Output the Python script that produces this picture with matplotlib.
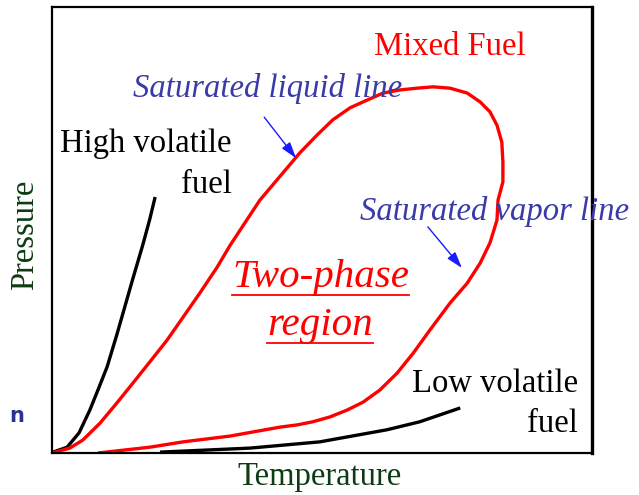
import matplotlib
matplotlib.use("Agg")
import matplotlib.pyplot as plt
from matplotlib.lines import Line2D

# ---- data (temperature / pressure in arbitrary units, 0-100) ----
high_T = [0, 0.2, 2.8, 5.0, 7.0, 8.5, 10.2, 12.0, 13.3, 15.0, 16.8, 18.1, 19.1]
high_P = [0, 0.2, 1.3, 4.5, 9.6, 14.1, 19.3, 26.5, 32.0, 39.2, 46.6, 52.4, 57.4]

mixed_T = [0, 3.3, 5.7, 8.9, 12.0, 15.0, 18.1, 21.3, 24.3, 27.4, 30.6, 33.0, 38.5,
           45.9, 49.1, 52.0, 55.2, 58.3, 61.3, 64.4, 67.6, 70.6, 73.7, 76.9, 79.3,
           81.1, 82.4, 83.3, 83.5, 83.5, 82.6, 82.4, 81.1, 79.3, 76.9, 73.7, 70.0,
           66.9, 63.9, 60.7, 57.6, 54.6, 51.5, 48.3, 45.4, 42.2, 33.0, 24.3, 18.1, 8.5]
mixed_P = [0, 1.1, 2.9, 6.7, 11.2, 15.7, 20.4, 25.3, 30.5, 35.9, 41.7, 46.6, 56.7,
           67.3, 71.3, 74.7, 77.4, 79.1, 80.7, 81.4, 81.8, 82.1, 81.8, 80.7, 78.7,
           76.5, 73.5, 69.7, 65.2, 60.8, 56.7, 52.2, 47.1, 42.6, 38.1, 33.6, 27.6,
           22.4, 17.9, 14.1, 11.4, 9.6, 8.1, 7.0, 6.3, 5.8, 3.8, 2.5, 1.3, 0]

low_T = [20.0, 29.3, 36.7, 49.6, 62.0, 68.1, 75.6]
low_P = [0.2, 0.7, 1.1, 2.5, 5.2, 7.0, 10.1]

W, H = 639, 495
fig = plt.figure(figsize=(W / 100, H / 100), dpi=100)
ax = fig.add_axes([52 / W, 42 / H, 540 / W, 446 / H])
ax.set_xlim(0, 100)
ax.set_ylim(0, 100)
ax.set_xticks([])
ax.set_yticks([])
for s in ax.spines.values():
    s.set_linewidth(1.6)
    s.set_color("black")
ax.spines["right"].set_linewidth(2.4)

serif = "Liberation Serif"
blue_txt = "#3a3aa8"
fs = 23.5

kw = dict(lw=2.4, solid_joinstyle="round", solid_capstyle="butt")
ax.plot(high_T, high_P, color="black", **kw)
ax.plot(low_T, low_P, color="black", **kw)
ax.plot(mixed_T, mixed_P, color="#ff0000", **kw)

ax.text(73.7, 89.2, "Mixed Fuel", color="#ff0000", fontsize=fs, family=serif,
        ha="center", va="baseline")
ax.text(33.3, 67.5, "High volatile", color="black", fontsize=fs, family=serif,
        ha="right", va="baseline")
ax.text(33.3, 58.3, "fuel", color="black", fontsize=fs, family=serif,
        ha="right", va="baseline")
ax.text(97.4, 13.7, "Low volatile", color="black", fontsize=fs, family=serif,
        ha="right", va="baseline")
ax.text(97.4, 4.7, "fuel", color="black", fontsize=fs, family=serif,
        ha="right", va="baseline")

ax.text(40.0, 79.8, "Saturated liquid line", color=blue_txt, fontsize=fs, family=serif,
        style="italic", ha="center", va="baseline")
ax.text(81.9, 52.2, "Saturated vapor line", color=blue_txt, fontsize=fs, family=serif,
        style="italic", ha="center", va="baseline", clip_on=False)

t1 = ax.text(49.8, 37.2, "Two-phase", color="#ff0000", fontsize=29.5, family=serif,
             style="italic", ha="center", va="baseline")
t2 = ax.text(49.6, 26.5, "region", color="#ff0000", fontsize=29.5, family=serif,
             style="italic", ha="center", va="baseline")

arrow_kw = dict(arrowstyle="-|>,head_length=0.7,head_width=0.22", color="#1a1aff",
                lw=1.0, mutation_scale=14, shrinkA=0, shrinkB=0)
ax.annotate("", xy=(45.2, 66.1), xytext=(39.3, 75.3), arrowprops=arrow_kw)
ax.annotate("", xy=(75.9, 41.5), xytext=(69.6, 50.7), arrowprops=arrow_kw)

fig.text(320 / W, 1 - 485 / H, "Temperature", color="#0d3b12", fontsize=fs, family=serif,
         ha="center", va="baseline")
fig.text(25 / W, 1 - 235 / H, "Pressure", color="#0d3b12", fontsize=fs, family=serif,
         rotation=90, ha="center", va="center")
fig.text(9 / W, 1 - 422 / H, "n", color="#2e2e9a", fontsize=15, family="DejaVu Sans",
         weight="bold", ha="left", va="baseline")

# underline the two-phase labels
fig.canvas.draw()
r = fig.canvas.get_renderer()
for t in (t1, t2):
    bb = t.get_window_extent(renderer=r)
    y = bb.y0 + 1
    fig.add_artist(Line2D([bb.x0 / W, bb.x1 / W], [y / H, y / H],
                          color="#ff0000", lw=1.3, transform=fig.transFigure))

fig.savefig("out.png", dpi=100)
